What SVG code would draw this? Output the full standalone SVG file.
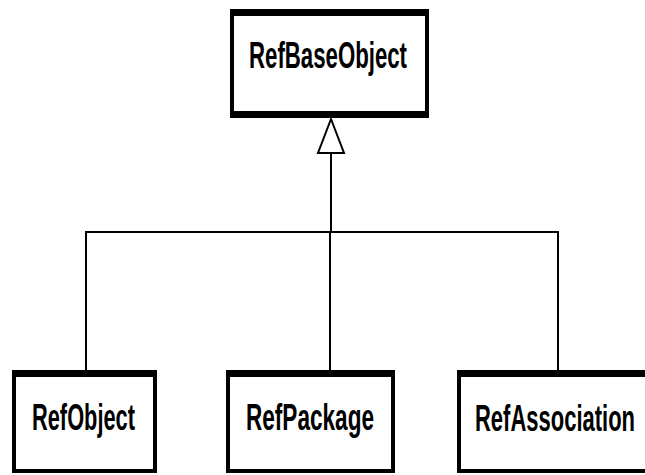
<svg xmlns="http://www.w3.org/2000/svg" width="645" height="475" viewBox="0 0 645 475">
  <style>
    .frame { fill: #ffffff; stroke: #000000; stroke-width: 4; }
    .bar { fill: #000000; }
    .label { font-family: "Liberation Sans", Arial, sans-serif; font-weight: bold; font-size: 36px; fill: #000000; }
    .wire { fill: none; stroke: #000000; stroke-width: 2; }
    .head { fill: #ffffff; stroke: #000000; stroke-width: 2; stroke-linejoin: miter; }
  </style>
  <rect x="0" y="0" width="645" height="475" fill="#ffffff"/>

  <!-- generalization connectors -->
  <g id="connectors">
    <polyline class="wire" points="86,370 86,232 558,232 558,370"/>
    <line class="wire" x1="330" y1="232" x2="330" y2="370"/>
    <line class="wire" x1="331" y1="153" x2="331" y2="232"/>
    <polygon class="head" points="331,119 318,153 344,153"/>
  </g>

  <g id="RefBaseObject">
    <rect class="frame" x="232" y="11" width="195" height="105"/>
    <rect class="bar" x="230" y="9" width="199" height="7"/>
    <rect class="bar" x="230" y="111" width="199" height="7"/>
    <text class="label" x="249" y="68" textLength="158" lengthAdjust="spacingAndGlyphs">RefBaseObject</text>
  </g>

  <g id="RefObject">
    <rect class="frame" x="14" y="372" width="141" height="99"/>
    <rect class="bar" x="12" y="370" width="145" height="7"/>
    <text class="label" x="32" y="430" textLength="103" lengthAdjust="spacingAndGlyphs">RefObject</text>
  </g>

  <g id="RefPackage">
    <rect class="frame" x="228" y="372" width="165" height="99"/>
    <rect class="bar" x="226" y="370" width="169" height="7"/>
    <text class="label" x="246" y="430" textLength="128" lengthAdjust="spacingAndGlyphs">RefPackage</text>
  </g>

  <g id="RefAssociation">
    <rect class="frame" x="459" y="372" width="195" height="99"/>
    <rect class="bar" x="457" y="370" width="199" height="7"/>
    <text class="label" x="475" y="431" textLength="160" lengthAdjust="spacingAndGlyphs">RefAssociation</text>
  </g>
</svg>
